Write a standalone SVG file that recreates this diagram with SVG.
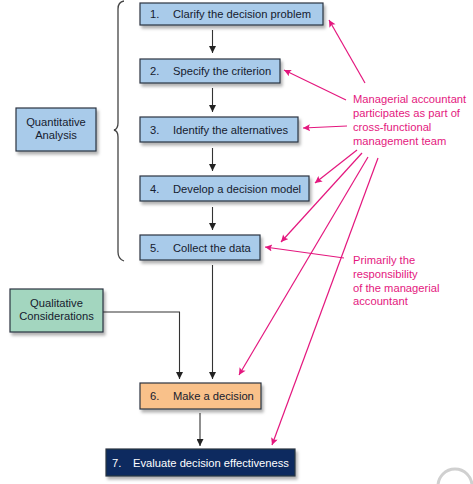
<svg xmlns="http://www.w3.org/2000/svg" width="473" height="484" viewBox="0 0 473 484">
<defs>
<filter id="sh" x="-10%" y="-20%" width="130%" height="160%">
<feDropShadow dx="2" dy="3" stdDeviation="1.5" flood-color="#000" flood-opacity="0.3"/>
</filter>
<marker id="ab" viewBox="0 0 10 10" refX="10" refY="5" markerWidth="7" markerHeight="7" markerUnits="userSpaceOnUse" orient="auto">
<path d="M0,0 L10,5 L0,10 z" fill="#222"/>
</marker>
<marker id="ap" viewBox="0 0 10 10" refX="10" refY="5" markerWidth="8" markerHeight="7" markerUnits="userSpaceOnUse" orient="auto">
<path d="M0,0 L10,5 L0,10 L2,5 z" fill="#e4177e"/>
</marker>
<style>
.box{stroke:#2b3440;stroke-width:1.2;filter:url(#sh)}
.blue{fill:#a9cbea}
.t{font-family:"Liberation Sans",Arial,sans-serif;font-size:11.2px;fill:#15202e}
.c{text-anchor:middle}
.p{font-family:"Liberation Sans",Arial,sans-serif;font-size:11.2px;fill:#e4177e}
.k{stroke:#333;stroke-width:1.1;fill:none;marker-end:url(#ab)}
.m{stroke:#e4177e;stroke-width:1.2;fill:none;marker-end:url(#ap)}
</style>
</defs>
<rect width="473" height="484" fill="#fff"/>

<g id="connectors">
<line class="k" x1="212.5" y1="30" x2="212.5" y2="53"/>
<line class="k" x1="212.5" y1="88" x2="212.5" y2="112"/>
<line class="k" x1="212.5" y1="148" x2="212.5" y2="171"/>
<line class="k" x1="212.5" y1="207" x2="212.5" y2="230"/>
<line class="k" x1="212.5" y1="265" x2="212.5" y2="379"/>
<polyline class="k" points="103,312 179.5,312 179.5,379"/>
<line class="k" x1="200" y1="413" x2="200" y2="446"/>
<line class="m" x1="365" y1="83" x2="329" y2="20"/>
<line class="m" x1="346" y1="100" x2="284" y2="70"/>
<line class="m" x1="347" y1="126" x2="303" y2="128"/>
<line class="m" x1="357" y1="150" x2="315" y2="183"/>
<line class="m" x1="362" y1="153" x2="281" y2="242"/>
<line class="m" x1="368" y1="157" x2="239" y2="375"/>
<line class="m" x1="378" y1="158" x2="272" y2="445"/>
<line class="m" x1="344" y1="258" x2="265" y2="247"/>
</g>

<g id="brace">
<path d="M124,1 Q118,2 118,9 L118,123 Q118,129 114,130 Q118,131 118,137 L118,252 Q118,259 124,261" fill="none" stroke="#444" stroke-width="1.3"/>
</g>

<g id="n1"><rect class="box blue" x="140" y="3" width="183" height="22"/>
<text class="t" x="150" y="18">1.</text><text class="t" x="173" y="18">Clarify the decision problem</text></g>
<g id="n2"><rect class="box blue" x="140" y="59" width="140" height="24"/>
<text class="t" x="150" y="75">2.</text><text class="t" x="173" y="75">Specify the criterion</text></g>
<g id="n3"><rect class="box blue" x="140" y="117" width="158" height="25"/>
<text class="t" x="150" y="134">3.</text><text class="t" x="173" y="134">Identify the alternatives</text></g>
<g id="n4"><rect class="box blue" x="140" y="176" width="169" height="25"/>
<text class="t" x="150" y="193">4.</text><text class="t" x="173" y="193">Develop a decision model</text></g>
<g id="n5"><rect class="box blue" x="140" y="235" width="120" height="25"/>
<text class="t" x="150" y="252">5.</text><text class="t" x="173" y="252">Collect the data</text></g>
<g id="n6"><rect class="box" x="140" y="383" width="121" height="26" fill="#f9c18a"/>
<text class="t" x="150" y="400">6.</text><text class="t" x="173" y="400">Make a decision</text></g>
<g id="n7"><rect class="box" x="106" y="449" width="189" height="27" fill="#0b2b5e"/>
<text class="t" x="112" y="467" style="fill:#fff">7.</text><text class="t" x="133" y="467" style="fill:#fff">Evaluate decision effectiveness</text></g>
<g id="qa"><rect class="box blue" x="16" y="108" width="80" height="43"/>
<text class="t c" x="56" y="126">Quantitative</text><text class="t c" x="56" y="139">Analysis</text></g>
<g id="qc"><rect class="box" x="10" y="289" width="93" height="43" fill="#a3d6bf"/>
<text class="t c" x="56.5" y="307">Qualitative</text><text class="t c" x="56.5" y="320">Considerations</text></g>

<g id="note1">
<text class="p" x="353" y="103">Managerial accountant</text>
<text class="p" x="353" y="117">participates as part of</text>
<text class="p" x="353" y="131">cross-functional</text>
<text class="p" x="353" y="145">management team</text>
</g>
<g id="note2">
<text class="p" x="353" y="264">Primarily the</text>
<text class="p" x="353" y="278">responsibility</text>
<text class="p" x="353" y="292">of the managerial</text>
<text class="p" x="353" y="305">accountant</text>
</g>
<g id="mark">
<path d="M438,486 A17,17 0 0 1 472,486" fill="none" stroke="#d0d0d0" stroke-width="3"/>
</g>
</svg>
